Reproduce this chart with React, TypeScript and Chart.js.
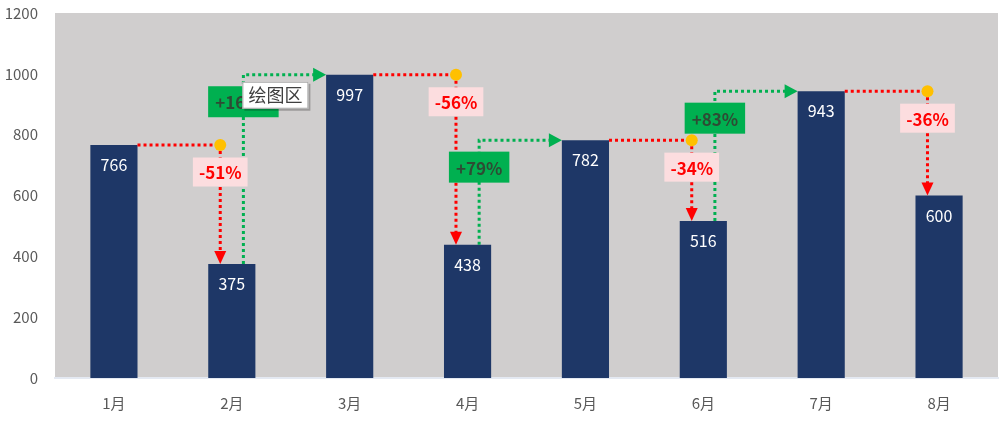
import { useEffect, useRef } from 'react';
import { Chart, registerables } from 'chart.js';

Chart.register(...registerables);

const months = ['1月', '2月', '3月', '4月', '5月', '6月', '7月', '8月'];
const sales = [766, 375, 997, 438, 782, 516, 943, 600];
const yTicks = [0, 200, 400, 600, 800, 1000, 1200];

const FONT = '"Noto Sans CJK SC", "Noto Sans", sans-serif';
const RED = '#FF0000';
const GREEN = '#00B050';

function pct(prev: number, cur: number) {
  const p = Math.round(((cur - prev) / prev) * 100);
  return (p > 0 ? '+' : '') + p + '%';
}

// draws the dotted change arrows, bar values and % labels
const changePlugin = {
  id: 'changeArrows',
  beforeDraw(chart: Chart) {
    const { ctx, chartArea } = chart;
    ctx.save();
    ctx.fillStyle = '#D0CECE';
    ctx.fillRect(chartArea.left, chartArea.top, chartArea.right - chartArea.left, chartArea.bottom - chartArea.top);
    ctx.restore();
  },
  afterDatasetsDraw(chart: Chart) {
    const { ctx } = chart;
    const xs = chart.scales.x;
    const ys = chart.scales.y;
    const bars = chart.getDatasetMeta(0).data as any[];
    const off = 12;
    const labels: { x: number; y: number; text: string; up: boolean }[] = [];
    const dots: { x: number; y: number }[] = [];

    ctx.save();
    ctx.lineWidth = 3;
    ctx.setLineDash([3, 3]);

    for (let i = 1; i < sales.length; i++) {
      const prev = sales[i - 1];
      const cur = sales[i];
      const yPrev = ys.getPixelForValue(prev);
      const yCur = ys.getPixelForValue(cur);
      const cPrev = xs.getPixelForValue(i - 1);
      const cCur = xs.getPixelForValue(i);
      const wPrev = bars[i - 1].width;
      const wCur = bars[i].width;
      if (cur < prev) {
        const xEnd = cCur - wCur / 2 + off;
        ctx.strokeStyle = RED;
        ctx.fillStyle = RED;
        ctx.setLineDash([3, 3]);
        ctx.beginPath();
        ctx.moveTo(cPrev + wPrev / 2, yPrev);
        ctx.lineTo(xEnd, yPrev);
        ctx.moveTo(xEnd, yPrev);
        ctx.lineTo(xEnd, yCur - 12);
        ctx.stroke();
        ctx.setLineDash([]);
        ctx.beginPath();
        ctx.moveTo(xEnd - 6, yCur - 13);
        ctx.lineTo(xEnd + 6, yCur - 13);
        ctx.lineTo(xEnd, yCur);
        ctx.closePath();
        ctx.fill();
        dots.push({ x: xEnd, y: yPrev });
        labels.push({ x: xEnd, y: yPrev + 27, text: pct(prev, cur), up: false });
      } else {
        const x0 = cPrev + wPrev / 2 - off;
        const xTip = cCur - wCur / 2;
        ctx.strokeStyle = GREEN;
        ctx.fillStyle = GREEN;
        ctx.setLineDash([3, 3]);
        ctx.beginPath();
        ctx.moveTo(x0, yPrev);
        ctx.lineTo(x0, yCur);
        ctx.lineTo(xTip - 12, yCur);
        ctx.stroke();
        ctx.setLineDash([]);
        ctx.beginPath();
        ctx.moveTo(xTip - 13, yCur - 7);
        ctx.lineTo(xTip - 13, yCur + 7);
        ctx.lineTo(xTip, yCur);
        ctx.closePath();
        ctx.fill();
        labels.push({ x: x0, y: yCur + 27, text: pct(prev, cur), up: true });
      }
    }

    ctx.setLineDash([]);
    ctx.fillStyle = '#FFC000';
    dots.forEach((d) => {
      ctx.beginPath();
      ctx.arc(d.x, d.y, 6, 0, Math.PI * 2);
      ctx.fill();
    });

    // bar values
    ctx.font = `16px ${FONT}`;
    ctx.fillStyle = '#FFFFFF';
    ctx.textAlign = 'center';
    ctx.textBaseline = 'middle';
    sales.forEach((v, i) => {
      ctx.fillText(String(v), xs.getPixelForValue(i), ys.getPixelForValue(v) + 20);
    });

    // % labels, red first, green on top
    ctx.font = `bold 17px ${FONT}`;
    [false, true].forEach((up) => {
      labels
        .filter((l) => l.up === up)
        .forEach((l) => {
          const w = ctx.measureText(l.text).width + (up ? 14 : 12);
          const h = up ? 31 : 29;
          ctx.fillStyle = up ? GREEN : '#FCDDDF';
          ctx.fillRect(l.x - w / 2, l.y - h / 2, w, h);
          ctx.fillStyle = up ? '#2E4B34' : RED;
          ctx.fillText(l.text, l.x, l.y + 1);
        });
    });

    // Excel hover tooltip left in the screenshot
    const tx = xs.getPixelForValue(1) + bars[1].width / 2 - off - 1;
    const ty = ys.getPixelForValue(sales[2]) + 7;
    ctx.fillStyle = 'rgba(0,0,0,0.25)';
    ctx.fillRect(tx + 2, ty + 2, 66, 27);
    ctx.fillStyle = '#FFFFFF';
    ctx.fillRect(tx, ty, 66, 27);
    ctx.strokeStyle = '#A6A6A6';
    ctx.lineWidth = 1;
    ctx.strokeRect(tx + 0.5, ty + 0.5, 65, 26);
    ctx.font = `18px ${FONT}`;
    ctx.fillStyle = '#404040';
    ctx.fillText('绘图区', tx + 33, ty + 13.5);

    ctx.restore();
  },
};

export default function App() {
  const canvasRef = useRef<HTMLCanvasElement>(null);
  const chartRef = useRef<Chart | null>(null);

  useEffect(() => {
    if (!canvasRef.current) return;
    if (chartRef.current) chartRef.current.destroy();

    chartRef.current = new Chart(canvasRef.current, {
      type: 'bar',
      data: {
        labels: months,
        datasets: [
          {
            data: sales,
            backgroundColor: '#1E3767',
            categoryPercentage: 1,
            barPercentage: 0.4,
          },
        ],
      },
      options: {
        animation: false,
        responsive: true,
        maintainAspectRatio: false,
        layout: { padding: { top: 13, right: 1, bottom: 0, left: 0 } },
        plugins: {
          legend: { display: false },
          tooltip: { enabled: false },
        },
        scales: {
          x: {
            afterFit: (axis: any) => {
              axis.height = 45;
            },
            grid: { display: false, drawTicks: false },
            border: { display: true, color: '#E4E9F2', width: 2 },
            ticks: { color: '#595959', font: { family: FONT, size: 15 }, padding: 16 },
          },
          y: {
            min: 0,
            max: 1200,
            afterBuildTicks: (axis: any) => {
              axis.ticks = yTicks.map((v) => ({ value: v }));
            },
            afterFit: (axis: any) => {
              axis.width = 55;
              axis.paddingTop = 0;
              axis.paddingBottom = 0;
            },
            grid: { display: false, drawTicks: false },
            border: { display: false },
            ticks: {
              color: '#595959',
              font: { family: FONT, size: 15 },
              padding: 17,
              callback: (v: any) => String(v),
            },
          },
        },
      },
      plugins: [changePlugin],
    });

    return () => {
      if (chartRef.current) {
        chartRef.current.destroy();
        chartRef.current = null;
      }
    };
  }, []);

  return (
    <div style={{ position: 'absolute', left: 0, top: 0, width: 999, height: 423, background: '#FFFFFF' }}>
      <canvas ref={canvasRef} />
    </div>
  );
}
